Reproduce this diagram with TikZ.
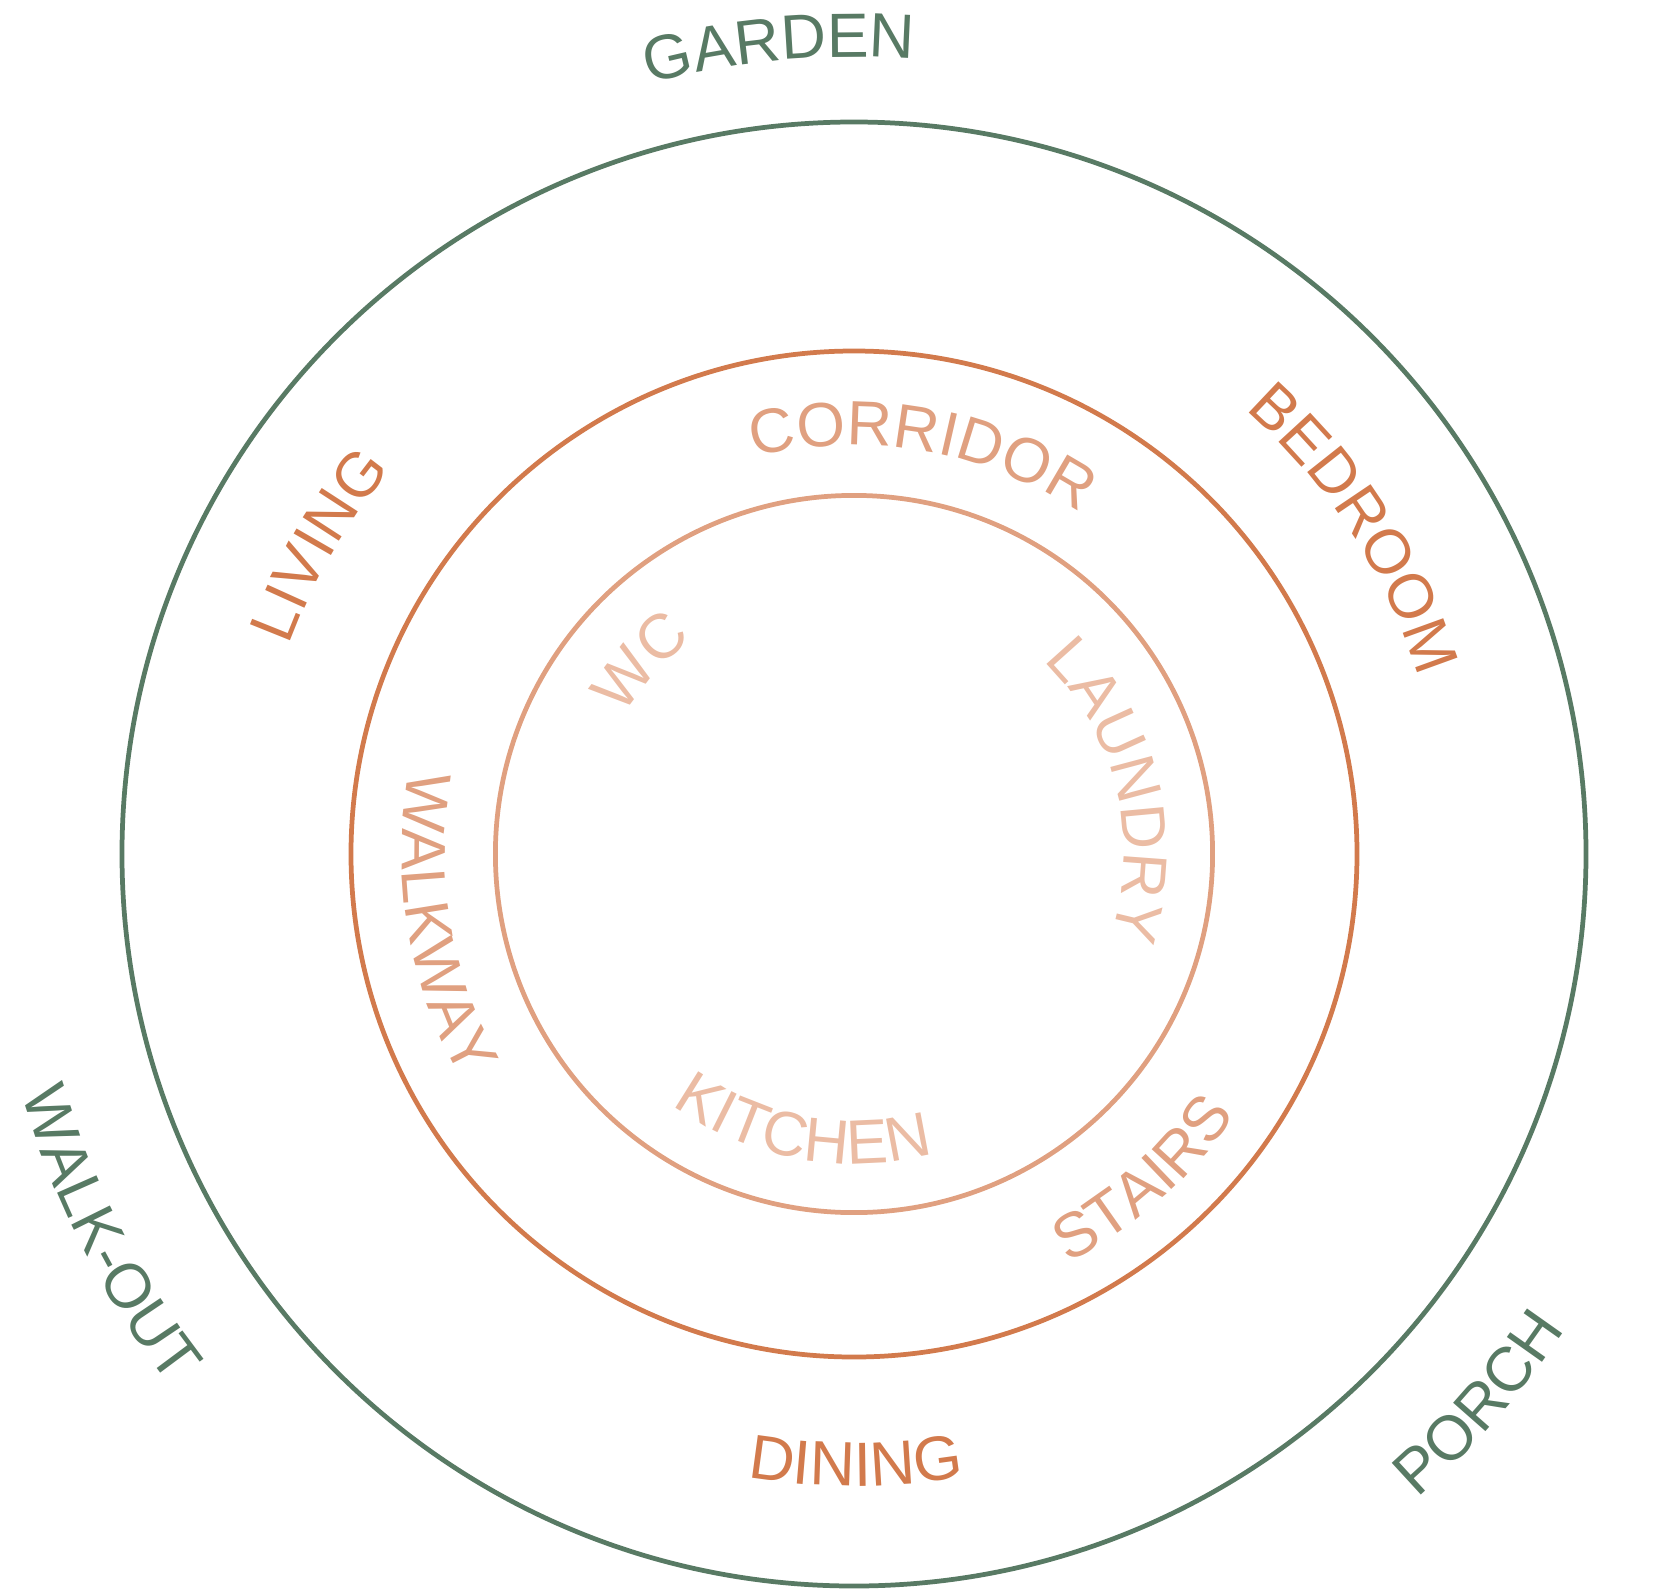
\documentclass[tikz,border=0pt]{standalone}
\usepackage{fontspec}
\setmainfont{Liberation Sans}
\usetikzlibrary{decorations.text}
\definecolor{sage}{HTML}{587A64}
\definecolor{terra}{HTML}{D27A4C}
\definecolor{peach}{HTML}{E0A080}
\definecolor{blush}{HTML}{EBBCA4}
\newcommand\lblfont{\fontsize{17.8}{20}\selectfont}
% clockwise label: radius, mid angle, half span, colour, text
\newcommand\cwlabel[5]{%
  \path[decorate,decoration={text along path,text align=center,text color=#4,text={|\lblfont|#5}}]
    ({#2+#3}:#1) arc[start angle={#2+#3}, end angle={#2-#3}, radius=#1];}
% counter-clockwise label
\newcommand\ccwlabel[5]{%
  \path[decorate,decoration={text along path,text align=center,text color=#4,text={|\lblfont|#5}}]
    ({#2-#3}:#1) arc[start angle={#2-#3}, end angle={#2+#3}, radius=#1];}
\begin{document}
\begin{tikzpicture}[ring/.style={line width=1.35pt}]
\useasboundingbox (-8.54,-7.36) rectangle (8.07,8.54);
\coordinate (c) at (0,0);
\draw[ring,sage] (c) circle[radius=7.32];
\draw[ring,terra] (c) circle[radius=5.03];
\draw[ring,peach] (c) circle[radius=3.586];
% outer band
\cwlabel{7.97}{95.3}{12}{sage}{GARDEN}
\ccwlabel{8.56}{-41.3}{12}{sage}{PORCH}
\ccwlabel{8.66}{207.0}{15}{sage}{WALK-OUT}
% middle band
\cwlabel{5.92}{33.0}{20}{terra}{BEDROOM}
\cwlabel{6.02}{150.0}{15}{terra}{LIVING}
\ccwlabel{6.32}{270.2}{15}{terra}{DINING}
% inner band
\cwlabel{4.09}{80.3}{30}{peach}{CORRIDOR}
\ccwlabel{4.52}{189.6}{28}{peach}{WALKWAY}
\ccwlabel{4.62}{-48.4}{20}{peach}{STAIRS}
% centre
\cwlabel{2.68}{138}{20}{blush}{WC}
\cwlabel{2.70}{13.8}{40}{blush}{LAUNDRY}
\ccwlabel{3.10}{259.5}{35}{blush}{KITCHEN}
\end{tikzpicture}
\end{document}
